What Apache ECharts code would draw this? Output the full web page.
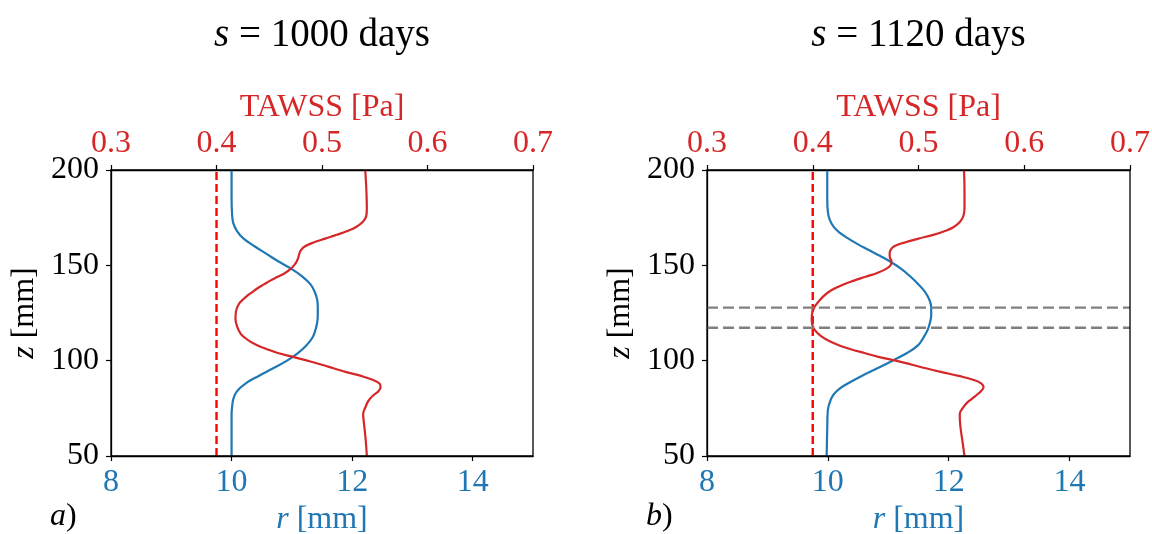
<!DOCTYPE html>
<html>
<head>
<meta charset="utf-8">
<script src="https://cdn.jsdelivr.net/npm/echarts@6.0.0/dist/echarts.min.js"></script>
<style>
  html, body { margin: 0; padding: 0; background: #fff; }
  #chart { width: 1152px; height: 534px; }
</style>
</head>
<body>
<div id="chart"></div>
<script>
// ticks
const rTicks = [8, 10, 12, 14];
const tawssTicks = [0.3, 0.4, 0.5, 0.6, 0.7];
const zTicks = [50, 100, 150, 200];

// panel a) s = 1000 days
const zBlueA = [200, 185, 176, 172, 168, 164, 160, 156, 152, 148, 144, 140, 136, 132, 128, 124, 120, 116, 112, 108, 104, 100, 96, 92, 88, 84, 80, 76, 72, 60, 50];
const rBlueA = [10.0, 10.0, 10.01, 10.03, 10.09, 10.2, 10.38, 10.58, 10.78, 11.0, 11.18, 11.31, 11.38, 11.42, 11.43, 11.43, 11.42, 11.39, 11.34, 11.24, 11.1, 10.92, 10.69, 10.45, 10.23, 10.09, 10.03, 10.01, 10.0, 10.0, 10.0];
const zRedA = [200, 190, 180, 176, 173, 170, 168, 166, 164, 162, 160, 158, 156, 154, 152, 150, 148, 146, 144, 142, 140, 138, 136, 134, 132, 130, 126, 122, 118, 114, 112, 110, 108, 106, 104, 102, 100, 98, 96, 94, 92, 90, 88, 86, 84, 82, 80, 78, 76, 72, 66, 58, 50];
const tauA = [0.541, 0.542, 0.5425, 0.542, 0.539, 0.532, 0.524, 0.514, 0.503, 0.492, 0.484, 0.48, 0.4785, 0.4775, 0.476, 0.4735, 0.47, 0.465, 0.458, 0.451, 0.445, 0.439, 0.434, 0.429, 0.425, 0.4215, 0.4185, 0.418, 0.4195, 0.423, 0.427, 0.432, 0.439, 0.448, 0.458, 0.4725, 0.486, 0.499, 0.511, 0.523, 0.537, 0.548, 0.5545, 0.5555, 0.5535, 0.549, 0.5455, 0.543, 0.5415, 0.539, 0.54, 0.5415, 0.5425];

// panel b) s = 1120 days
const zBlueB = [200, 185, 178, 174, 170, 167, 164, 161, 158, 155, 152, 148, 144, 140, 136, 132, 128, 124, 120, 116, 112, 108, 104, 100, 96, 92, 88, 85, 82, 78, 74, 65, 50];
const rBlueB = [9.99, 9.99, 10.0, 10.03, 10.1, 10.2, 10.34, 10.5, 10.68, 10.86, 11.03, 11.22, 11.37, 11.5, 11.61, 11.68, 11.71, 11.71, 11.69, 11.65, 11.58, 11.49, 11.31, 11.07, 10.82, 10.56, 10.33, 10.18, 10.09, 10.03, 10.0, 9.99, 9.98];
const zRedB = [200, 190, 180, 176, 173, 170, 168, 166, 164, 162, 160, 158, 156, 154, 152, 150, 148, 146, 144, 142, 140, 138, 136, 134, 132, 130, 128, 125, 122, 119, 116, 113, 110, 108, 106, 104, 102, 100, 98, 96, 94, 92, 90, 88, 86, 84, 82, 80, 78, 76, 72, 66, 58, 50];
const tauB = [0.543, 0.5435, 0.5435, 0.5425, 0.5395, 0.533, 0.525, 0.514, 0.5, 0.487, 0.477, 0.4735, 0.4727, 0.473, 0.4745, 0.4735, 0.469, 0.461, 0.45, 0.439, 0.429, 0.421, 0.415, 0.4105, 0.407, 0.404, 0.4015, 0.3995, 0.399, 0.3995, 0.402, 0.4075, 0.4165, 0.425, 0.436, 0.449, 0.462, 0.4785, 0.493, 0.507, 0.522, 0.538, 0.5515, 0.5595, 0.5615, 0.559, 0.555, 0.5505, 0.546, 0.543, 0.539, 0.5395, 0.5415, 0.5435];
const zBandB = [127.8, 117.3];

const tawssLimit = 0.4;
const titles = ['1000', '1120'];
const panelTags = ['a', 'b'];

const BLUE = '#1f77b4';
const RED = '#d62728';
const FONT = 'Liberation Serif';

const pairs = (xs, ys) => xs.map((x, i) => [x, ys[i]]);

const grids = [
  {left: 111, top: 170, width: 422, height: 286, outerBoundsMode: 'none', containLabel: false},
  {left: 707, top: 170, width: 423, height: 286, outerBoundsMode: 'none', containLabel: false}
];

const xAxes = [];
const yAxes = [];
grids.forEach((g, i) => {
  xAxes.push({
    type: 'value', gridIndex: i, position: 'bottom', min: 8, max: 15,
    name: '{i|r} [mm]', nameLocation: 'middle', nameGap: 46,
    nameTextStyle: {color: BLUE, fontFamily: FONT, fontSize: 32, rich: {i: {fontStyle: 'italic', color: BLUE, fontFamily: FONT, fontSize: 32}}},
    axisLine: {lineStyle: {color: '#000', width: 1.3}},
    axisTick: {length: 5, lineStyle: {color: '#000', width: 1.2}, customValues: rTicks},
    axisLabel: {color: BLUE, fontFamily: FONT, fontSize: 32, margin: 11, customValues: rTicks},
    splitLine: {show: false}
  });
  xAxes.push({
    type: 'value', gridIndex: i, position: 'top', min: 0.3, max: 0.7,
    name: 'TAWSS [Pa]', nameLocation: 'middle', nameGap: 46,
    nameTextStyle: {color: RED, fontFamily: FONT, fontSize: 32},
    axisLine: {lineStyle: {color: '#000', width: 1.3}},
    axisTick: {length: 5, lineStyle: {color: '#000', width: 1.2}, customValues: tawssTicks},
    axisLabel: {color: RED, fontFamily: FONT, fontSize: 32, margin: 10, customValues: tawssTicks,
      formatter: v => v.toFixed(1)},
    splitLine: {show: false}
  });
  yAxes.push({
    type: 'value', gridIndex: i, min: 50, max: 200,
    name: '{i|z} [mm]', nameLocation: 'middle', nameGap: 70,
    nameTextStyle: {color: '#000', fontFamily: FONT, fontSize: 32, rich: {i: {fontStyle: 'italic', fontFamily: FONT, fontSize: 32}}},
    axisLine: {lineStyle: {color: '#000', width: 1.3}},
    axisTick: {length: 5, lineStyle: {color: '#000', width: 1.2}, customValues: zTicks},
    axisLabel: {color: '#000', fontFamily: FONT, fontSize: 32, margin: 12, customValues: zTicks},
    splitLine: {show: false}
  });
});

const lineStyle = (color, width, type) => ({color, width, type: type || 'solid'});

const series = [];
const panels = [
  {blue: pairs(rBlueA, zBlueA), red: pairs(tauA, zRedA)},
  {blue: pairs(rBlueB, zBlueB), red: pairs(tauB, zRedB)}
];
panels.forEach((p, i) => {
  series.push({
    type: 'line', xAxisIndex: 2 * i + 1, yAxisIndex: i, symbol: 'none', silent: true,
    data: [[tawssLimit, 50], [tawssLimit, 200]],
    lineStyle: lineStyle('#ff0000', 2.4, [8, 4])
  });
  series.push({
    type: 'line', xAxisIndex: 2 * i, yAxisIndex: i, symbol: 'none', smooth: 0.4, silent: true,
    data: p.blue, lineStyle: lineStyle(BLUE, 2.2)
  });
  series.push({
    type: 'line', xAxisIndex: 2 * i + 1, yAxisIndex: i, symbol: 'none', smooth: 0.4, silent: true,
    data: p.red, lineStyle: lineStyle(RED, 2.2)
  });
});
zBandB.forEach(z => {
  series.push({
    type: 'line', xAxisIndex: 2, yAxisIndex: 1, symbol: 'none', silent: true,
    data: [[8, z], [15, z]],
    lineStyle: lineStyle('#808080', 2.4, [11, 5])
  });
});

// right and top spines
const frames = grids.map(g => ({
  type: 'rect', silent: true, z: 100,
  shape: {x: g.left, y: g.top, width: g.width, height: g.height},
  style: {fill: null, stroke: '#000', lineWidth: 1.3}
}));

const texts = [];
grids.forEach((g, i) => {
  texts.push({
    type: 'text', x: g.left + g.width / 2, y: 36, silent: true,
    style: {
      text: '{i|s} = ' + titles[i] + ' days', align: 'center', verticalAlign: 'middle',
      fontFamily: FONT, fontSize: 39, fill: '#000',
      rich: {i: {fontStyle: 'italic', fontFamily: FONT, fontSize: 39}}
    }
  });
  texts.push({
    type: 'text', x: g.left - 61, y: 517, silent: true,
    style: {
      text: '{i|' + panelTags[i] + '})', align: 'left', verticalAlign: 'middle',
      fontFamily: FONT, fontSize: 32, fill: '#000',
      rich: {i: {fontStyle: 'italic', fontFamily: FONT, fontSize: 32}}
    }
  });
});

const chart = echarts.init(document.getElementById('chart'), null, {renderer: 'canvas'});
chart.setOption({
  animation: false,
  backgroundColor: '#fff',
  grid: grids,
  xAxis: xAxes,
  yAxis: yAxes,
  series: series,
  graphic: frames.concat(texts)
});
</script>
</body>
</html>
